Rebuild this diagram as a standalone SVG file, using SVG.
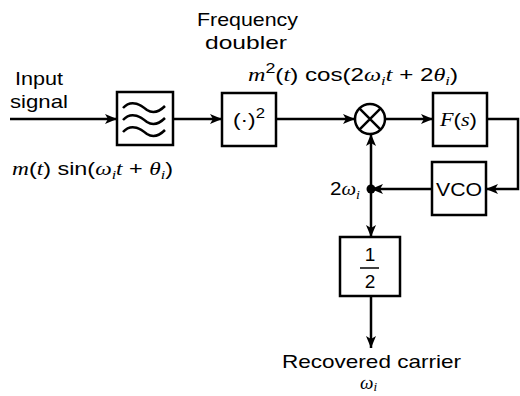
<svg xmlns="http://www.w3.org/2000/svg" width="520" height="396" viewBox="0 0 520 396">
<defs>
<marker id="ah" viewBox="0 0 12 10" refX="12" refY="5" markerWidth="12" markerHeight="10" markerUnits="userSpaceOnUse" orient="auto">
<path d="M0,0 L12,5 L0,10 L3,5 Z" fill="#000"/>
</marker>
<style>
.b{fill:#fff;stroke:#000;stroke-width:2.5}
.l{fill:none;stroke:#000;stroke-width:2.5}
.t{font-family:"Liberation Sans",Arial,sans-serif;font-size:19px;fill:#000}
.m{font-family:"Liberation Serif","Times New Roman",serif;font-style:italic}
.s{font-size:13px}
</style>
</defs>
<rect width="520" height="396" fill="#fff"/>
<g id="connectors">
<path class="l" d="M10,119 H117" marker-end="url(#ah)"/>
<path class="l" d="M173,119 H222" marker-end="url(#ah)"/>
<path class="l" d="M276,119 H355" marker-end="url(#ah)"/>
<path class="l" d="M385,119 H433" marker-end="url(#ah)"/>
<path class="l" d="M487,119 H518 V189 H486" marker-end="url(#ah)"/>
<path class="l" d="M432,189 H371" marker-end="url(#ah)"/>
<path class="l" d="M371,189 V134" marker-end="url(#ah)"/>
<path class="l" d="M371,189 V237" marker-end="url(#ah)"/>
<path class="l" d="M371,296 V348" marker-end="url(#ah)"/>
<circle cx="371" cy="189" r="4.5" fill="#000"/>
</g>
<g id="filter">
<rect class="b" x="117" y="92" width="56" height="53"/>
<path class="l" d="M123,108 C132,98 142,106 147,110 C153,114 159,112 165,106" stroke-width="2"/>
<path class="l" d="M123,120 C132,110 142,118 147,122 C153,126 159,124 165,118" stroke-width="2"/>
<path class="l" d="M123,132 C132,122 142,130 147,134 C153,138 159,136 165,130" stroke-width="2"/>
</g>
<g id="square">
<rect class="b" x="222" y="93" width="54" height="53"/>
<text class="t" x="233" y="126" textLength="32" lengthAdjust="spacingAndGlyphs">(·)<tspan dy="-8" font-size="14">2</tspan></text>
</g>
<g id="mixer">
<circle class="b" cx="370" cy="119" r="15"/>
<path class="l" d="M359.4,108.4 L380.6,129.6 M380.6,108.4 L359.4,129.6"/>
</g>
<g id="loopfilter">
<rect class="b" x="433" y="93" width="54" height="53"/>
<text class="t" x="440" y="126" textLength="37" lengthAdjust="spacingAndGlyphs"><tspan class="m">F</tspan>(<tspan class="m">s</tspan>)</text>
</g>
<g id="vco">
<rect class="b" x="432" y="162" width="54" height="53"/>
<text class="t" x="436" y="196" textLength="46" lengthAdjust="spacingAndGlyphs">VCO</text>
</g>
<g id="half">
<rect class="b" x="340" y="237" width="60" height="59"/>
<text class="t" x="370" y="261" text-anchor="middle">1</text>
<path d="M360,268 H379" stroke="#000" stroke-width="1.5"/>
<text class="t" x="370" y="288" text-anchor="middle">2</text>
</g>
<g id="labels">
<text class="t" x="15" y="85" textLength="48" lengthAdjust="spacingAndGlyphs">Input</text>
<text class="t" x="10" y="108" textLength="58" lengthAdjust="spacingAndGlyphs">signal</text>
<text class="t" x="197" y="26" textLength="101" lengthAdjust="spacingAndGlyphs">Frequency</text>
<text class="t" x="205" y="49" textLength="82" lengthAdjust="spacingAndGlyphs">doubler</text>
<text class="t" x="248" y="81" textLength="210" lengthAdjust="spacingAndGlyphs"><tspan class="m">m</tspan><tspan dy="-8" font-size="14">2</tspan><tspan dy="8">(</tspan><tspan class="m">t</tspan>) cos(2<tspan class="m">ω</tspan><tspan class="m s" dy="4">i</tspan><tspan class="m" dy="-4">t</tspan> + 2<tspan class="m">θ</tspan><tspan class="m s" dy="4">i</tspan><tspan dy="-4">)</tspan></text>
<text class="t" x="12" y="175" textLength="161" lengthAdjust="spacingAndGlyphs"><tspan class="m">m</tspan>(<tspan class="m">t</tspan>) sin(<tspan class="m">ω</tspan><tspan class="m s" dy="4">i</tspan><tspan class="m" dy="-4">t</tspan> + <tspan class="m">θ</tspan><tspan class="m s" dy="4">i</tspan><tspan dy="-4">)</tspan></text>
<text class="t" x="330" y="195" textLength="30" lengthAdjust="spacingAndGlyphs">2<tspan class="m">ω</tspan><tspan class="m s" dy="4">i</tspan></text>
<text class="t" x="282" y="368" textLength="179" lengthAdjust="spacingAndGlyphs">Recovered carrier</text>
<text class="t" x="360" y="389"><tspan class="m">ω</tspan><tspan class="m s" dy="2">i</tspan></text>
</g>
</svg>
